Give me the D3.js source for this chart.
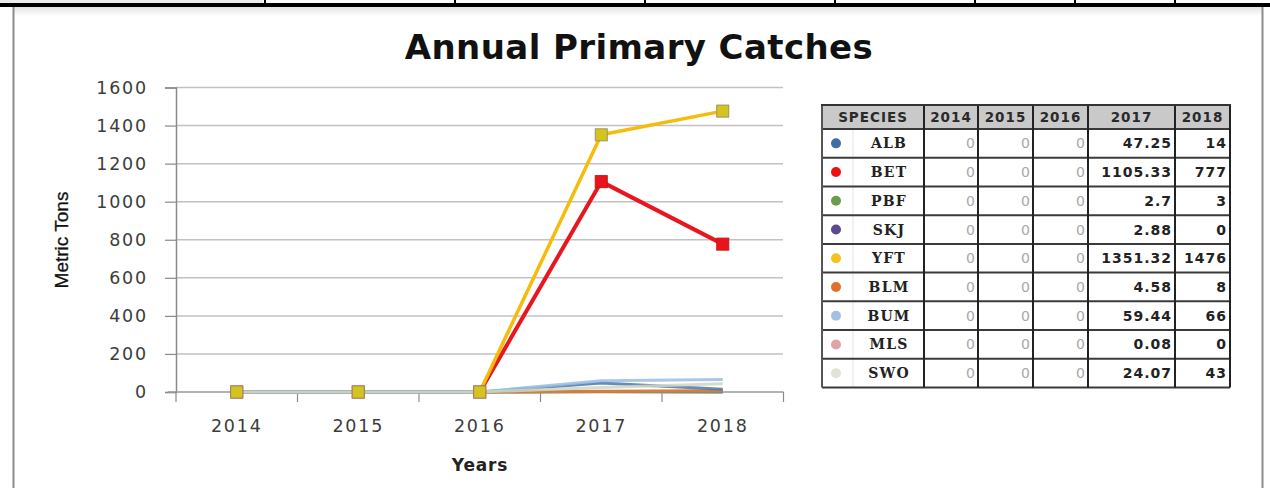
<!DOCTYPE html>
<html>
<head>
<meta charset="utf-8">
<script src="https://cdn.jsdelivr.net/npm/d3@7"></script>
<style>
  html, body { margin: 0; padding: 0; background: #fff; }
  svg { display: block; }
</style>
</head>
<body>
<svg id="chart" width="1270" height="488"></svg>
<script>
// Catch data (metric tons) by species and year
const years = ["2014", "2015", "2016", "2017", "2018"];
const species = ["ALB", "BET", "PBF", "SKJ", "YFT", "BLM", "BUM", "MLS", "SWO"];
const ALB = [0, 0, 0, 47.25, 14];
const BET = [0, 0, 0, 1105.33, 777];
const PBF = [0, 0, 0, 2.7, 3];
const SKJ = [0, 0, 0, 2.88, 0];
const YFT = [0, 0, 0, 1351.32, 1476];
const BLM = [0, 0, 0, 4.58, 8];
const BUM = [0, 0, 0, 59.44, 66];
const MLS = [0, 0, 0, 0.08, 0];
const SWO = [0, 0, 0, 24.07, 43];
const yTicks = [0, 200, 400, 600, 800, 1000, 1200, 1400, 1600];

const catches = { ALB, BET, PBF, SKJ, YFT, BLM, BUM, MLS, SWO };

// Series styling
const lineColor = {
  ALB: "#4a78b0", BET: "#e8161e", PBF: "#78a050", SKJ: "#6a5a96",
  YFT: "#f5bc0c", BLM: "#e07a36", BUM: "#9dbde0", MLS: "#e2a6a4", SWO: "#cfd6c2"
};
const dotColor = {
  ALB: "#3f6ea5", BET: "#ee1111", PBF: "#6e9a4c", SKJ: "#5b4a8e",
  YFT: "#f4c21c", BLM: "#e46e2e", BUM: "#a3c0e2", MLS: "#e0a4a4", SWO: "#dfe4d6"
};

const svg = d3.select("#chart");

// ---- Page frame ----
const frame = svg.append("g");
const defs = svg.append("defs");
const shade = defs.append("linearGradient").attr("id", "topShade")
  .attr("x1", 0).attr("y1", 0).attr("x2", 0).attr("y2", 1);
shade.append("stop").attr("offset", "0%").attr("stop-color", "#e4e4e4");
shade.append("stop").attr("offset", "100%").attr("stop-color", "#ffffff");

frame.append("rect").attr("x", 0).attr("y", 0).attr("width", 263).attr("height", 3).attr("fill", "#ececec");
[265, 455, 645, 835, 975, 1075, 1175].forEach(x => {
  frame.append("line").attr("x1", x).attr("x2", x).attr("y1", 0).attr("y2", 4)
    .attr("stroke", "#000").attr("stroke-width", 2);
});
frame.append("rect").attr("x", 14).attr("y", 7).attr("width", 1248).attr("height", 9).attr("fill", "url(#topShade)");
frame.append("rect").attr("x", 0).attr("y", 3).attr("width", 1270).attr("height", 4).attr("fill", "#000");
frame.append("line").attr("x1", 13.5).attr("x2", 13.5).attr("y1", 7).attr("y2", 488)
  .attr("stroke", "#8c8c8c").attr("stroke-width", 2);
frame.append("line").attr("x1", 1262.5).attr("x2", 1262.5).attr("y1", 7).attr("y2", 488)
  .attr("stroke", "#8c8c8c").attr("stroke-width", 2);

// ---- Title ----
svg.append("text")
  .attr("x", 639).attr("y", 59)
  .attr("text-anchor", "middle")
  .attr("font-family", "DejaVu Sans, Verdana, sans-serif")
  .attr("font-weight", "bold")
  .attr("font-size", 34)
  .attr("letter-spacing", 0.4)
  .attr("fill", "#111")
  .text("Annual Primary Catches");

// ---- Scales ----
const x = d3.scaleBand().domain(years).range([176, 783.5]).paddingInner(0).paddingOuter(0);
const cx = d => x(d) + x.bandwidth() / 2;
const y = d3.scaleLinear().domain([0, 1600]).range([392, 87.5]);

const plot = svg.append("g");

// Gridlines
plot.append("g").selectAll("line").data(yTicks.filter(v => v > 0)).join("line")
  .attr("x1", 176).attr("x2", 783)
  .attr("y1", d => y(d)).attr("y2", d => y(d))
  .attr("stroke", "#c2c2c2").attr("stroke-width", 1.5);

// Y axis
const yAxis = plot.append("g")
  .attr("transform", "translate(176,0)")
  .call(d3.axisLeft(y).tickValues(yTicks).tickSize(11).tickPadding(17).tickFormat(d3.format("d")));
yAxis.select(".domain").attr("stroke", "#8a8a8a").attr("stroke-width", 1.5);
yAxis.selectAll(".tick line").attr("stroke", "#8a8a8a").attr("stroke-width", 1.2);
yAxis.selectAll(".tick text")
  .attr("font-family", "DejaVu Sans, Verdana, sans-serif")
  .attr("font-size", 17.5)
  .attr("letter-spacing", 1.8)
  .attr("fill", "#3c3c3c");

// X axis: ticks on category boundaries, labels centered
const xAxis = plot.append("g");
xAxis.append("line").attr("x1", 168).attr("x2", 783.5).attr("y1", y(0)).attr("y2", y(0))
  .attr("stroke", "#9a9a9a").attr("stroke-width", 1.5);
const bounds = years.map(d => x(d)).concat([x(years[years.length - 1]) + x.bandwidth()]);
xAxis.selectAll("line.tk").data(bounds).join("line").attr("class", "tk")
  .attr("x1", d => d).attr("x2", d => d)
  .attr("y1", y(0)).attr("y2", y(0) + 10)
  .attr("stroke", "#8a8a8a").attr("stroke-width", 1.2);
xAxis.selectAll("text").data(years).join("text")
  .attr("x", d => cx(d)).attr("y", 432)
  .attr("text-anchor", "middle")
  .attr("font-family", "DejaVu Sans, Verdana, sans-serif")
  .attr("font-size", 17.5)
  .attr("letter-spacing", 1.8)
  .attr("fill", "#3c3c3c")
  .text(d => d);

// Axis titles
svg.append("text")
  .attr("x", 480).attr("y", 471)
  .attr("text-anchor", "middle")
  .attr("font-family", "DejaVu Sans, Verdana, sans-serif")
  .attr("font-weight", "bold")
  .attr("font-size", 17)
  .attr("letter-spacing", 0.8)
  .attr("fill", "#222")
  .text("Years");
svg.append("text")
  .attr("transform", "translate(68,240) rotate(-90)")
  .attr("text-anchor", "middle")
  .attr("font-family", "Liberation Sans Narrow, Liberation Sans, Arial, sans-serif")
  .attr("font-size", 19)
  .attr("stroke", "#111").attr("stroke-width", 0.3)
  .attr("fill", "#111")
  .text("Metric Tons");

// ---- Series lines ----
// large series first, small series over them, markers last
const line = d3.line().x((d, i) => cx(years[i])).y(d => y(d));
const series = plot.append("g");
const bigOrder = ["BET", "YFT"];
const smallOrder = ["MLS", "SKJ", "PBF", "BLM", "ALB", "BUM", "SWO"];
bigOrder.forEach(sp => {
  series.append("path")
    .datum(catches[sp])
    .attr("d", line)
    .attr("fill", "none")
    .attr("stroke", lineColor[sp])
    .attr("stroke-width", sp === "BET" ? 4 : 3.5)
    .attr("stroke-linejoin", "round");
});
smallOrder.forEach(sp => {
  series.append("path")
    .datum(catches[sp])
    .attr("d", line)
    .attr("fill", "none")
    .attr("stroke", lineColor[sp])
    .attr("stroke-width", 3)
    .attr("stroke-opacity", 0.85)
    .attr("stroke-linejoin", "round");
});
bigOrder.forEach(sp => {
  series.append("g").selectAll("rect").data(catches[sp]).join("rect")
    .attr("x", (d, i) => cx(years[i]) - 6)
    .attr("y", d => y(d) - 6)
    .attr("width", 12).attr("height", 12)
    .attr("fill", sp === "BET" ? "#e8141a" : "#d6c41e")
    .attr("stroke", sp === "BET" ? "#d01016" : "#9c9266")
    .attr("stroke-width", 1);
});

// ---- Data table ----
const tbl = svg.append("g");
const colEdges = [822, 924, 978, 1033, 1088, 1175, 1230];
const headTop = 105, headBottom = 129, rowH = (387.5 - 129) / species.length;
const rowTop = i => headBottom + i * rowH;
const tableBottom = rowTop(species.length);

tbl.append("rect").attr("x", 822).attr("y", headTop).attr("width", 1230 - 822).attr("height", headBottom - headTop)
  .attr("fill", "#c9c9c9");
tbl.append("line").attr("x1", 853).attr("x2", 853).attr("y1", headBottom).attr("y2", tableBottom)
  .attr("stroke", "#e4e4e4").attr("stroke-width", 1);

// grid lines
d3.range(species.length + 1).forEach(i => {
  tbl.append("line").attr("x1", 822).attr("x2", 1230)
    .attr("y1", rowTop(i)).attr("y2", rowTop(i))
    .attr("stroke", "#3a3a3a").attr("stroke-width", 2);
});
colEdges.slice(1).forEach(xe => {
  tbl.append("line").attr("x1", xe).attr("x2", xe).attr("y1", headTop).attr("y2", tableBottom)
    .attr("stroke", "#222").attr("stroke-width", 2);
});
tbl.append("line").attr("x1", 822).attr("x2", 822).attr("y1", headTop).attr("y2", tableBottom)
  .attr("stroke", "#555").attr("stroke-width", 2);
tbl.append("line").attr("x1", 821).attr("x2", 1231).attr("y1", headTop).attr("y2", headTop)
  .attr("stroke", "#333").attr("stroke-width", 2);

// header
const headers = ["SPECIES"].concat(years);
tbl.selectAll("text.hd").data(headers).join("text").attr("class", "hd")
  .attr("x", (d, i) => (colEdges[i] + colEdges[i + 1]) / 2)
  .attr("y", 122)
  .attr("text-anchor", "middle")
  .attr("font-family", "DejaVu Sans, Verdana, sans-serif")
  .attr("font-weight", "bold")
  .attr("font-size", 13.5)
  .attr("letter-spacing", 1)
  .attr("fill", "#2a2a2a")
  .text(d => d);

// rows
species.forEach((sp, r) => {
  const yc = rowTop(r) + rowH / 2;
  tbl.append("circle").attr("cx", 836).attr("cy", yc).attr("r", 5).attr("fill", dotColor[sp]);
  tbl.append("text")
    .attr("x", 889).attr("y", yc + 5)
    .attr("text-anchor", "middle")
    .attr("font-family", "DejaVu Serif, Liberation Serif, serif")
    .attr("font-weight", "bold")
    .attr("font-size", 14)
    .attr("letter-spacing", 1.2)
    .attr("fill", "#222")
    .text(sp);
  catches[sp].forEach((v, c) => {
    const early = c < 3;
    tbl.append("text")
      .attr("x", colEdges[c + 2] - 3).attr("y", yc + 5)
      .attr("text-anchor", "end")
      .attr("font-family", "DejaVu Sans, Verdana, sans-serif")
      .attr("font-weight", early ? "normal" : "bold")
      .attr("font-size", 14)
      .attr("letter-spacing", early ? 0 : 1)
      .attr("fill", early ? "#a8a8a8" : "#222")
      .text(String(v));
  });
});
</script>
</body>
</html>
